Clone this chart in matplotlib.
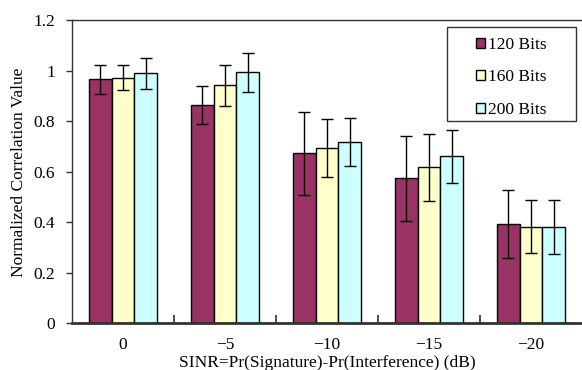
import matplotlib.pyplot as plt
from matplotlib.patches import Rectangle
import numpy as np

plt.rcParams["font.family"] = ["Liberation Serif", "DejaVu Serif"]
plt.rcParams["font.size"] = 12.5

# SINR groups
sinr_labels = ["0", "\u22125", "\u221210", "\u221215", "\u221220"]
series_names = ["120 Bits", "160 Bits", "200 Bits"]

# bar heights
vals_120 = [0.967, 0.865, 0.674, 0.574, 0.393]
vals_160 = [0.973, 0.943, 0.694, 0.618, 0.383]
vals_200 = [0.991, 0.994, 0.719, 0.663, 0.380]

# symmetric error bar half-lengths
err_120 = [0.058, 0.077, 0.164, 0.170, 0.134]
err_160 = [0.050, 0.080, 0.115, 0.133, 0.105]
err_200 = [0.061, 0.076, 0.096, 0.105, 0.107]

colors = ["#993366", "#FFFFCC", "#CCFFFF"]

fig = plt.figure(figsize=(5.82, 3.70), dpi=100)
ax = fig.add_axes([0.1237, 0.1262, 0.8763, 0.8184])

x = np.arange(len(sinr_labels))
w = 0.222
for i, (v, e) in enumerate([(vals_120, err_120), (vals_160, err_160), (vals_200, err_200)]):
    xi = x + (i - 1) * w
    ax.bar(xi, v, width=w, color=colors[i], edgecolor="black", linewidth=1.0,
           label=series_names[i], zorder=2)
    ax.errorbar(xi, v, yerr=e, fmt="none", ecolor="black", elinewidth=1.0,
                capsize=4, capthick=1.0, zorder=3)

ax.set_xlim(-0.5, 4.5)
ax.set_ylim(0, 1.2)
ax.set_yticks([0, 0.2, 0.4, 0.6, 0.8, 1.0, 1.2])
ax.set_yticklabels(["0", "0.2", "0.4", "0.6", "0.8", "1", "1.2"])
ax.set_xticks(x)
ax.set_xticklabels(sinr_labels)
ax.set_xticks([0.5, 1.5, 2.5, 3.5], minor=True)
ax.tick_params(axis="x", which="major", length=0, pad=10)
ax.tick_params(axis="x", which="minor", direction="in", length=6, width=1.2, color="#333333")
ax.tick_params(axis="y", direction="out", length=4, width=1, color="#333333", pad=8)

for s in ["left", "top"]:
    ax.spines[s].set_color("#333333")
    ax.spines[s].set_linewidth(1.0)
ax.spines["bottom"].set_color("#333333")
ax.spines["bottom"].set_linewidth(2.0)
ax.spines["right"].set_visible(False)

ax.set_xlabel("SINR=Pr(Signature)-Pr(Interference) (dB)", labelpad=1)
ax.set_ylabel("Normalized Correlation Value", labelpad=5)

# legend box drawn separately so the entries can sit off-centre like the original
ax.add_patch(Rectangle((0.736, 0.667), 0.253, 0.311, transform=ax.transAxes,
                       facecolor="white", edgecolor="#333333", linewidth=1.0,
                       zorder=4, clip_on=False))
leg = ax.legend(loc="upper left", bbox_to_anchor=(0.775, 0.975), frameon=False,
                handlelength=0.5, handleheight=0.5, handletextpad=0.2,
                labelspacing=0.95, borderpad=0.5, borderaxespad=0)
leg.set_zorder(5)

fig.savefig("out.png", dpi=100)
